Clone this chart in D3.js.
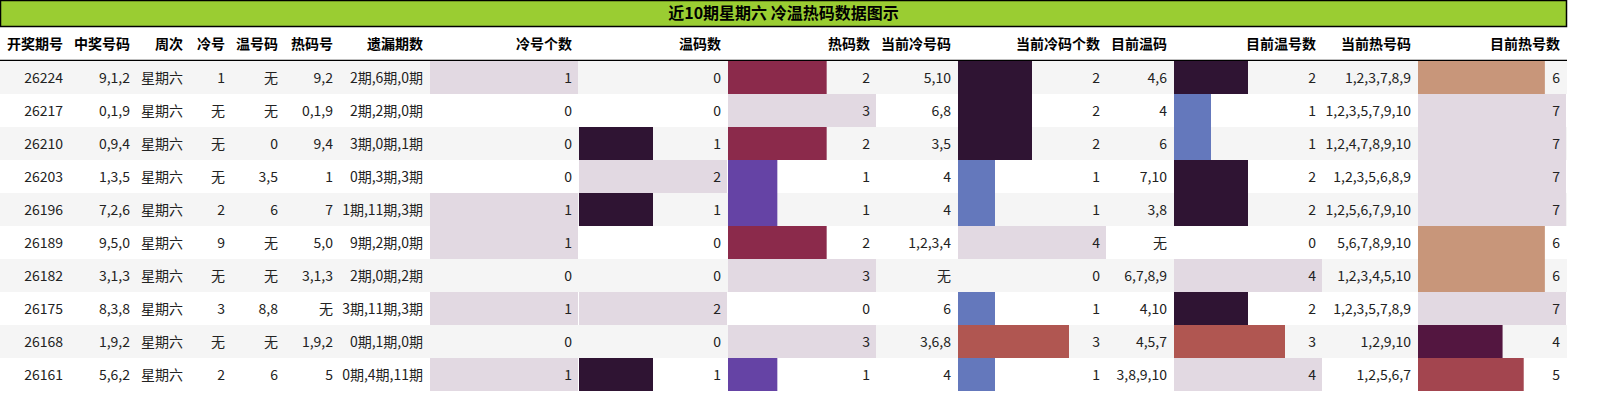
<!DOCTYPE html>
<html><head><meta charset="utf-8">
<script src="https://cdn.jsdelivr.net/npm/d3@7"></script>
<style>body{margin:0;background:#fff}text{font-family:"Liberation Sans Narrow","Noto Sans CJK SC",sans-serif}</style>
</head><body><svg id="c" width="1624" height="404"></svg>
<script>
const title = "近10期星期六 冷温热码数据图示";
const headers = ["开奖期号","中奖号码","周次","冷号","温号码","热码号","遗漏期数","冷号个数","温码数","热码数","当前冷号码","当前冷码个数","目前温码","目前温号数","当前热号码","目前热号数"];
const issues = ["26224","26217","26210","26203","26196","26189","26182","26175","26168","26161"];
const winNums = ["9,1,2","0,1,9","0,9,4","1,3,5","7,2,6","9,5,0","3,1,3","8,3,8","1,9,2","5,6,2"];
const weekday = Array(10).fill("星期六");
const coldNums = ["1","无","无","无","2","9","无","3","无","2"];
const warmNums = ["无","无","0","3,5","6","无","无","8,8","无","6"];
const hotNums = ["9,2","0,1,9","9,4","1","7","5,0","3,1,3","无","1,9,2","5"];
const missing = ["2期,6期,0期","2期,2期,0期","3期,0期,1期","0期,3期,3期","1期,11期,3期","9期,2期,0期","2期,0期,2期","3期,11期,3期","0期,1期,0期","0期,4期,11期"];
const coldCount = [1,0,0,0,1,1,0,1,0,1];
const warmCount = [0,0,1,2,1,0,0,2,0,1];
const hotCount = [2,3,2,1,1,2,3,0,3,1];
const curCold = ["5,10","6,8","3,5","4","4","1,2,3,4","无","6","3,6,8","4"];
const curColdCount = [2,2,2,1,1,4,0,1,3,1];
const curWarm = ["4,6","4","6","7,10","3,8","无","6,7,8,9","4,10","4,5,7","3,8,9,10"];
const curWarmCount = [2,1,1,2,2,0,4,2,3,4];
const curHot = ["1,2,3,7,8,9","1,2,3,5,7,9,10","1,2,4,7,8,9,10","1,2,3,5,6,8,9","1,2,5,6,7,9,10","5,6,7,8,9,10","1,2,3,4,5,10","1,2,3,5,7,8,9","1,2,9,10","1,2,5,6,7"];
const curHotCount = [6,7,7,7,7,6,6,7,4,5];

const columns = [issues,winNums,weekday,coldNums,warmNums,hotNums,missing,coldCount,warmCount,hotCount,curCold,curColdCount,curWarm,curWarmCount,curHot,curHotCount];
const edges = [0,70,137,190,232,285,340,430,579,728,877,958,1107,1174,1323,1418,1567];
const barCols = new Set([7,8,9,11,13,15]);

const twi = d3.scaleLinear()
 .domain([0,0.25,0.333,0.5,0.571,0.667,0.714,0.75,0.857,1])
 .range(["#e2d9e2","#6478bc","#6543a5","#2f1433","#531640","#8b2a4b","#a3454f","#b05651","#c8967a","#e2d9e2"])
 .interpolate(d3.interpolateRgb);

const svg = d3.select("#c");
const W = edges[edges.length-1];
const titleH = 26, headY = 27, headH = 33, rowY = 61, rowH = 33;
const y = d3.scaleBand().domain(d3.range(10)).range([rowY, rowY+rowH*10]);

svg.append("rect").attr("x",0.5).attr("y",0.5).attr("width",W-1).attr("height",titleH)
  .attr("fill","#9acd32").attr("stroke","#000").attr("stroke-width",1.5);
svg.append("text").attr("x",W/2).attr("y",19).attr("text-anchor","middle")
  .attr("font-size",16).attr("font-weight","bold").text(title);

headers.forEach((h,i)=>{
  svg.append("text").attr("x",edges[i+1]-7).attr("y",headY+headH/2+5).attr("text-anchor","end")
   .attr("font-size",14).attr("font-weight","bold").text(h);
});
svg.append("line").attr("x1",0).attr("x2",W).attr("y1",rowY-0.5).attr("y2",rowY-0.5).attr("stroke","#000").attr("stroke-width",1.5);

d3.range(10).forEach(r=>{
  if(r%2===0) svg.append("rect").attr("x",0).attr("y",y(r)).attr("width",W).attr("height",rowH).attr("fill","#f5f5f5");
});

columns.forEach((col,i)=>{
  const x0 = edges[i], w = edges[i+1]-edges[i];
  if(barCols.has(i)){
    const mx = d3.max(col);
    const xs = d3.scaleLinear().domain([0,mx]).range([0,w-1]);
    col.forEach((v,r)=>{
      if(v>0) svg.append("rect").attr("x",x0).attr("y",y(r)).attr("width",xs(v)).attr("height",rowH)
        .attr("fill",twi(v/mx));
    });
  }
  col.forEach((v,r)=>{
    svg.append("text").attr("x",edges[i+1]-7).attr("y",y(r)+rowH/2+5).attr("text-anchor","end")
      .attr("font-size",14).attr("fill","#222").text(v);
  });
});
</script></body></html>
